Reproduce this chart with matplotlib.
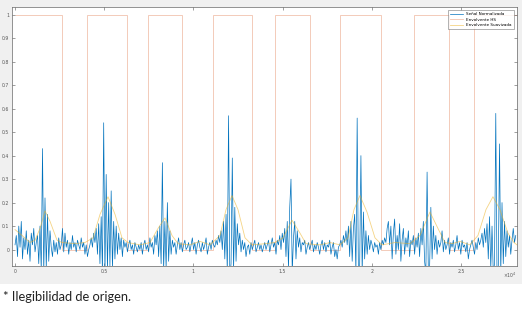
import numpy as np
import matplotlib
matplotlib.use("Agg")
import matplotlib.pyplot as plt

# normalized heart-sound signal, one value every 70 samples
dt = 70
signal = [
    0.02, 0.06, -0.03, 0.10, 0.01, 0.12, -0.04, 0.05, 0.00, 0.08, -0.02, 0.04, -0.05, 0.07, 0.02, 0.09, -0.01, 0.03, 0.06, -0.06,
    0.10, -0.09, 0.43, -0.10, 0.22, -0.08, 0.15, -0.05, 0.08, 0.01, -0.03, 0.04, -0.01, 0.03, -0.02, 0.05, 0.00, 0.02, 0.09, -0.01,
    0.07, 0.01, 0.04, -0.02, 0.03, 0.00, 0.06, 0.01, 0.03, -0.01, 0.04, 0.02, 0.00, 0.05, 0.01, 0.03, -0.02, 0.02, -0.03, 0.00,
    0.02, 0.05, 0.01, 0.07, 0.03, 0.09, -0.02, 0.11, -0.06, 0.14, -0.10, 0.54, -0.11, 0.32, -0.09, 0.20, -0.07, 0.25, -0.08, 0.12,
    -0.04, 0.10, -0.02, 0.07, 0.00, 0.05, -0.03, 0.04, 0.01, 0.03, -0.01, 0.02, 0.04, 0.00, 0.02, -0.02, 0.03, 0.01, -0.01, 0.02,
    0.00, 0.03, -0.02, 0.02, 0.04, 0.00, 0.02, -0.01, 0.05, 0.01, 0.03, -0.02, 0.06, 0.02, 0.08, -0.03, 0.10, -0.06, 0.37, -0.09,
    0.12, -0.08, 0.20, -0.05, 0.08, -0.02, 0.04, 0.01, 0.03, -0.02, 0.02, 0.05, 0.00, 0.03, -0.01, 0.02, 0.04, 0.00, 0.01, 0.03,
    -0.01, 0.02, 0.05, 0.00, 0.03, -0.02, 0.02, 0.04, 0.01, -0.01, 0.03, 0.00, 0.02, 0.05, -0.02, 0.01, 0.03, 0.00, 0.04, 0.02,
    0.01, 0.04, 0.02, 0.06, 0.03, 0.08, 0.00, 0.12, -0.04, 0.15, -0.10, 0.57, -0.12, -0.06, 0.39, -0.09, 0.18, -0.05, 0.11, 0.02,
    0.07, -0.01, 0.04, 0.00, 0.03, -0.03, 0.01, 0.02, -0.02, 0.03, 0.00, 0.02, 0.04, -0.01, 0.01, 0.03, 0.00, 0.02, -0.01, 0.01,
    0.03, 0.00, 0.02, 0.04, -0.01, 0.02, 0.05, 0.01, 0.03, -0.02, 0.04, 0.02, 0.06, 0.00, 0.07, 0.03, 0.09, -0.03, 0.12, -0.08,
    0.18, 0.30, -0.10, 0.05, 0.12, -0.04, 0.08, 0.01, 0.05, -0.01, 0.03, 0.02, 0.04, -0.02, 0.01, 0.03, 0.00, 0.02, 0.04, -0.01,
    0.02, 0.00, 0.03, 0.01, -0.02, 0.02, 0.04, 0.00, 0.03, -0.01, 0.02, 0.01, 0.04, -0.02, 0.01, 0.03, -0.03, 0.00, -0.04, 0.01,
    0.02, 0.04, 0.01, 0.06, 0.03, 0.08, 0.02, 0.10, -0.03, 0.12, -0.05, 0.09, 0.15, -0.10, 0.56, -0.11, -0.07, 0.40, -0.10, 0.16,
    -0.04, 0.08, -0.02, 0.06, 0.00, 0.04, 0.02, -0.01, 0.03, 0.01, 0.02, -0.02, 0.03, 0.00, 0.04, 0.02, 0.05, 0.03, 0.09, 0.12,
    0.02, 0.10, -0.04, 0.07, 0.13, -0.02, 0.06, 0.00, 0.11, -0.05, 0.04, 0.09, -0.02, 0.05, 0.01, 0.08, -0.03, 0.04, 0.02, 0.06,
    -0.02, 0.05, 0.01, 0.07, -0.03, 0.09, 0.02, 0.12, -0.05, -0.10, 0.33, -0.10, -0.08, 0.18, -0.04, 0.10, 0.00, 0.06, -0.02, 0.04,
    0.01, 0.03, 0.08, -0.01, 0.04, 0.00, 0.02, 0.05, -0.02, 0.03, 0.01, 0.04, -0.01, 0.02, 0.06, 0.00, 0.03, -0.02, 0.04, 0.01,
    0.02, -0.01, 0.03, -0.04, 0.00, 0.02, 0.04, 0.01, -0.02, 0.03, 0.00, 0.05, 0.02, 0.04, 0.07, 0.01, 0.09, 0.03, 0.11, -0.04,
    0.14, -0.08, 0.10, -0.10, -0.06, 0.58, -0.12, -0.09, 0.45, -0.10, 0.20, -0.06, 0.12, -0.03, 0.08, 0.01, 0.06, -0.02, 0.04, 0.09,
    0.03, 0.06,
]

# HS envelope (square wave): edges and levels
hs_edges = [0, 2618, 4053, 6261, 7472, 9378, 11116, 13268, 14574, 16519,
            18234, 20516, 22382, 24344, 25746, 28140]
hs_levels = [1, 0, 1, 0, 1, 0, 1, 0, 1, 0, 1, 0, 1, 0, 1]

# smoothed envelope
env_x = [0, 392, 841, 1121, 1401, 1682, 1962, 2354, 2634, 3363, 3924, 4372,
         4764, 5213, 5605, 5997, 6334, 7006, 7567, 8015, 8408, 8800, 9136,
         9809, 10369, 10930, 11490, 11827, 12163, 12499, 12892, 13284, 14013,
         14573, 15021, 15526, 15974, 16311, 17096, 17656, 18216, 18665, 19001,
         19337, 19730, 20178, 20570, 21299, 22140, 22701, 23261, 23709, 24102,
         24494, 24942, 25503, 25951, 26400, 26792, 27184, 27633, 27969, 28137]
env_y = [0.085, 0.06, 0.03, 0.04, 0.09, 0.165, 0.12, 0.04, 0.03, 0.025, 0.03, 0.05,
         0.15, 0.225, 0.15, 0.05, 0.03, 0.02, 0.03, 0.09, 0.135, 0.06, 0.025,
         0.02, 0.035, 0.02, 0.06, 0.17, 0.23, 0.17, 0.05, 0.02, 0.025,
         0.03, 0.05, 0.125, 0.07, 0.025, 0.02, 0.03, 0.02, 0.05, 0.17,
         0.23, 0.16, 0.05, 0.02, 0.03, 0.025, 0.06, 0.16, 0.09, 0.03,
         0.025, 0.035, 0.02, 0.06, 0.17, 0.225, 0.17, 0.07, 0.03, 0.02]

labels = ["Señal Normalizada", "Envolvente HS", "Envolvente Suavizada"]
xticks = [0, 5000, 10000, 15000, 20000, 25000]
xticklabels = ["0", "0.5", "1", "1.5", "2", "2.5"]
yticks = [0, 0.1, 0.2, 0.3, 0.4, 0.5, 0.6, 0.7, 0.8, 0.9, 1]
yticklabels = ["0", "0.1", "0.2", "0.3", "0.4", "0.5", "0.6", "0.7", "0.8", "0.9", "1"]

fig = plt.figure(figsize=(5.22, 3.09), dpi=100)
fig.patch.set_facecolor("white")
# gray MATLAB figure area
fig.patches.append(plt.Rectangle((0, 25 / 309), 1, 284 / 309, transform=fig.transFigure,
                                 facecolor="#f0f0f0", edgecolor="none", zorder=-10))

ax = fig.add_axes([12 / 522, 43 / 309, 505 / 522, 259 / 309])
ax.set_zorder(5)
ax.set_facecolor("white")

t = np.arange(len(signal)) * dt
ax.plot(t, signal, color="#0072BD", lw=0.5, label=labels[0])
ax.stairs(hs_levels, hs_edges, baseline=None, color="#D95319", lw=0.6, alpha=0.35, label=labels[1])
ax.plot(env_x, env_y, color="#EDB120", lw=0.6, alpha=0.55, label=labels[2])

ax.set_xlim(-170, 28140)
ax.set_ylim(-0.07, 1.033)
ax.set_xticks(xticks)
ax.set_xticklabels(xticklabels)
ax.set_yticks(yticks)
ax.set_yticklabels(yticklabels)
ax.tick_params(direction="in", length=2, width=0.4, labelsize=3.3, colors="#555555",
               top=True, right=True, pad=2)
for s in ax.spines.values():
    s.set_linewidth(0.5)
    s.set_color("#666666")

ax.text(1.0, -0.02, r"$\times10^4$", transform=ax.transAxes, fontsize=3.3,
        color="#555555", ha="right", va="top")

leg = ax.legend(loc="upper right", fontsize=3.0, frameon=True, fancybox=False,
                handlelength=3.2, borderpad=0.45, labelspacing=0.35, borderaxespad=0.8)
leg.get_frame().set_linewidth(0.4)
leg.get_frame().set_edgecolor("#555555")

fig.text(3 / 522, 1 - 297 / 309, "* Ilegibilidad de origen.", fontsize=9.3,
         family=["Lato", "DejaVu Sans"], color="#222222", ha="left", va="center")

fig.savefig("out.png", dpi=100)
